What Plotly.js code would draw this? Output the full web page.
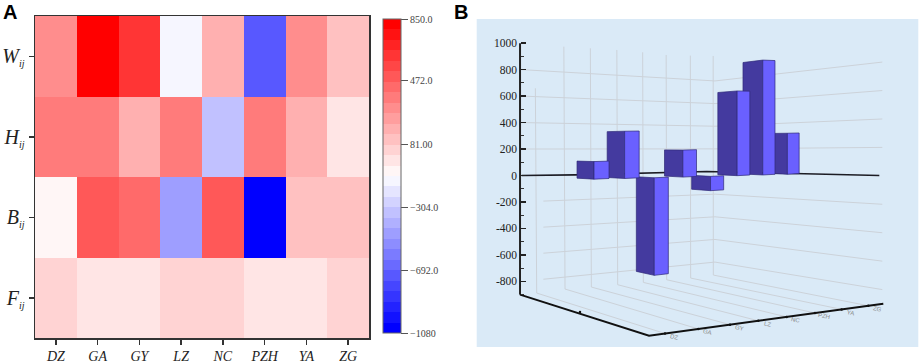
<!DOCTYPE html>
<html>
<head>
<meta charset="utf-8">
<script src="https://cdn.plot.ly/plotly-3.0.1.min.js"></script>
<style>html,body{margin:0;padding:0;background:#fff}#chart{width:920px;height:363px}</style>
</head>
<body>
<div id="chart"></div>
<script>
// ---------- data ----------
const cities = ['DZ','GA','GY','LZ','NC','PZH','YA','ZG'];
const cityLabels = cities.map(c => '<i>' + c + '</i>');
const subIJ = '<sub><span style="font-size:10px"><i>ij</i></span></sub>';
const indicatorLabels = ['<i>F</i>'+subIJ,'<i>B</i>'+subIJ,'<i>H</i>'+subIJ,'<i>W</i>'+subIJ];
const rowF = [36,-20,-20,36,36,-20,-20,36];
const rowB = [-75,496,432,-473,496,-1080,112,112];
const rowH = [370,370,169,370,-342,395,169,-1];
const rowW = [300,850,625,-153,169,-740,300,112];
const colorbarTicks = [850,472,81,-304,-692,-1080];
const colorbarLabels = ['850.0','472.0','81.00','\u2212304.0','\u2212692.0','\u22121080'];
const barValues = [133,357,-737,204,-108,640,868,310];
const axisTicks = [-800,-600,-400,-200,0,200,400,600,800,1000];
const axisMinorTicks = [-900,-700,-500,-300,-100,100,300,500,700,900];
const wallLevels = [-800,-600,-400,-200,200,400,600,800];

// ---------- colour scale: 30 stepped bands, blue - white - red ----------
const nBands = 30, steppedScale = [];
for (let k = 0; k < nBands; k++) {
  const t = k / (nBands - 1), u = Math.abs(2 * t - 1), c = Math.round(255 * (1 - u));
  const col = t < 0.5 ? `rgb(${c},${c},255)` : `rgb(255,${c},${c})`;
  steppedScale.push([k / nBands, col], [(k + 1) / nBands, col]);
}

// ---------- panel B oblique view frame (horizontal units of xaxis2) ----------
const unit = 0.3975;                       // frame units per value unit
const V = fy => (527 - fy) / unit;         // frame height -> value axis
const line = (x, y, color, width) => ({type:'scatter', mode:'lines', xaxis:'x2', yaxis:'y2', x, y,
  line:{color, width}, hoverinfo:'skip', showlegend:false});
const gridCol = '#ccd2d9';
const traces = [];

// heatmap
traces.push({type:'heatmap', x:cities, y:indicatorLabels, z:[rowF,rowB,rowH,rowW],
  zmin:-1080, zmax:850, colorscale:steppedScale, zsmooth:false, hoverinfo:'skip',
  colorbar:{x:383/920, xanchor:'left', xpad:0, ypad:0, y:1-176.3/363, yanchor:'middle',
    len:313.8/363, lenmode:'fraction', thickness:18, thicknessmode:'pixels',
    tickmode:'array', tickvals:colorbarTicks, ticktext:colorbarLabels, ticks:'outside', ticklen:7,
    tickwidth:1, tickcolor:'#555', outlinecolor:'#666', outlinewidth:1,
    tickfont:{family:'Liberation Serif', size:10, color:'#444'}}});

// walls: horizontal levels
const wallL = 215, wallC = 795, wallR = 1297;
wallLevels.forEach(v => {
  const startX = v < 0 ? 280 : wallL;
  const lerp = (a, b, f) => a + (b - a) * f;
  const fStart = (startX - wallL) / (wallC - wallL);
  const yStart = lerp(527, 515, fStart) - lerp(unit, 0.34, fStart) * v;
  const yCorner = 515 - 0.34 * v, yRight = 528 - 0.427 * v;
  traces.push(line([startX, wallC, wallR], [V(yStart), V(yCorner), V(yRight)], gridCol, 1));
});
// walls and floor: lines per category
const feet = [260,345,424,503,580,650,722,790];
const footY = [880,868,862,855,848,840,835,826];
const topY = [265,140,145,150,157,165,167,168];
const floorTicks = [645,745,840,925,1010,1095,1175,1255];
const axisY = x => 1008 - (x - 597) * 96 / 703;
feet.forEach((x, i) => {
  traces.push(line([x - 4 + i * 0.5, x], [V(topY[i]), V(footY[i])], gridCol, 1));
  traces.push(line([x, floorTicks[i]], [V(footY[i]), V(axisY(floorTicks[i]))], gridCol, 1));
});
// zero line
traces.push(line([215,375,770,1047,1288], [0,V(525),V(515),V(521),V(527)], '#1c1c24', 1.6));
// frame axes
traces.push(line([210,210], [-900,1000], '#222', 2));
traces.push(line([210,597,1300], [-900,V(1008),V(912)], '#111', 2));
// small ticks on the floor axis
traces.push({type:'scatter', mode:'markers', xaxis:'x2', yaxis:'y2', showlegend:false, hoverinfo:'skip',
  x:floorTicks.concat([390]), y:floorTicks.map(x => V(axisY(x))).concat([V(937)]),
  marker:{color:'#111', size:2.5}});

// bars, back to front
const barLeft  = i => 381 + 92 * i - 1.5 * i * i;
const darkW    = i => 51 + 1.4 * i;
const lightW   = i => 45 - 1.4 * i;
const barBase  = i => 538 - 2.1 * i;
const poly = (xa, xb, ya0, ya1, yb0, yb1, fill) => ({type:'scatter', mode:'lines', xaxis:'x2', yaxis:'y2',
  x:[xa,xb,xb,xa,xa], y:[V(ya0),V(yb0),V(yb1),V(ya1),V(ya0)], fill:'toself', fillcolor:fill,
  line:{color:'#2f2a78', width:0.7}, hoverinfo:'skip', showlegend:false});
for (let i = barValues.length - 1; i >= 0; i--) {
  const b = barBase(i), h = barValues[i] * unit, l = barLeft(i), m = l + darkW(i), r = m + lightW(i);
  traces.push(poly(l, m, b - 3, b - 3 - h * 0.97, b, b - h, '#443a9f'));
  traces.push(poly(m, r, b, b - h, b - 2, b - 2 - h * 0.99, '#6a60ff'));
}

// tiny category labels along the floor axis
const floorLabels = cities.map((c, i) => ({xref:'x2', yref:'y2', x:floorTicks[i] + 28, y:V(axisY(floorTicks[i]) + 10),
  text:c, showarrow:false, textangle:12, font:{family:'Liberation Sans', size:6, color:'#888'}, borderpad:0}));

const layout = {
  width:920, height:363, margin:{l:0,r:0,t:0,b:0}, paper_bgcolor:'#fff', plot_bgcolor:'#daeaf7',
  showlegend:false, hovermode:false,
  xaxis:{domain:[35/920,369/920], type:'category', showline:true, mirror:true, linewidth:1.5, linecolor:'#333',
    ticks:'outside', ticklen:5, tickwidth:1.5, tickcolor:'#333', showgrid:false, zeroline:false,
    tickmode:'array', tickvals:cities, ticktext:cityLabels,
    tickfont:{family:'Liberation Serif', size:14, color:'#222'}},
  yaxis:{domain:[1-338/363,1-16/363], type:'category', showline:true, mirror:true, linewidth:1.5, linecolor:'#333',
    ticks:'outside', ticklen:5, tickwidth:1.5, tickcolor:'#333', showgrid:false, zeroline:false,
    tickfont:{family:'Liberation Serif', size:20, color:'#222'}},
  xaxis2:{domain:[476.7/920,918.3/920], range:[80,1405], anchor:'y2', visible:false, fixedrange:true},
  yaxis2:{domain:[1-347/363,1-19/363], range:[V(1042),V(57)], anchor:'free', position:520/920,
    side:'left', showline:false, showgrid:false, zeroline:false, tickmode:'array', tickvals:axisTicks,
    ticktext:axisTicks.map(String), ticklabelstandoff:3,
    ticks:'inside', ticklen:5, tickwidth:1.4, tickcolor:'#222',
    minor:{tickmode:'array', tickvals:axisMinorTicks, ticks:'inside', ticklen:2.5, tickwidth:1, tickcolor:'#333', showgrid:false},
    tickfont:{family:'Liberation Serif', size:11.5, color:'#222'}},
  annotations:[
    {xref:'paper', yref:'paper', x:2/920, y:1, xanchor:'left', yanchor:'top', text:'<b>A</b>', showarrow:false,
     font:{family:'Liberation Sans', size:20, color:'#000'}, borderpad:0},
    {xref:'paper', yref:'paper', x:453/920, y:1, xanchor:'left', yanchor:'top', text:'<b>B</b>', showarrow:false,
     font:{family:'Liberation Sans', size:20, color:'#000'}, borderpad:0}
  ].concat(floorLabels)
};
Plotly.newPlot('chart', traces, layout, {displayModeBar:false, staticPlot:true});
</script>
</body>
</html>
